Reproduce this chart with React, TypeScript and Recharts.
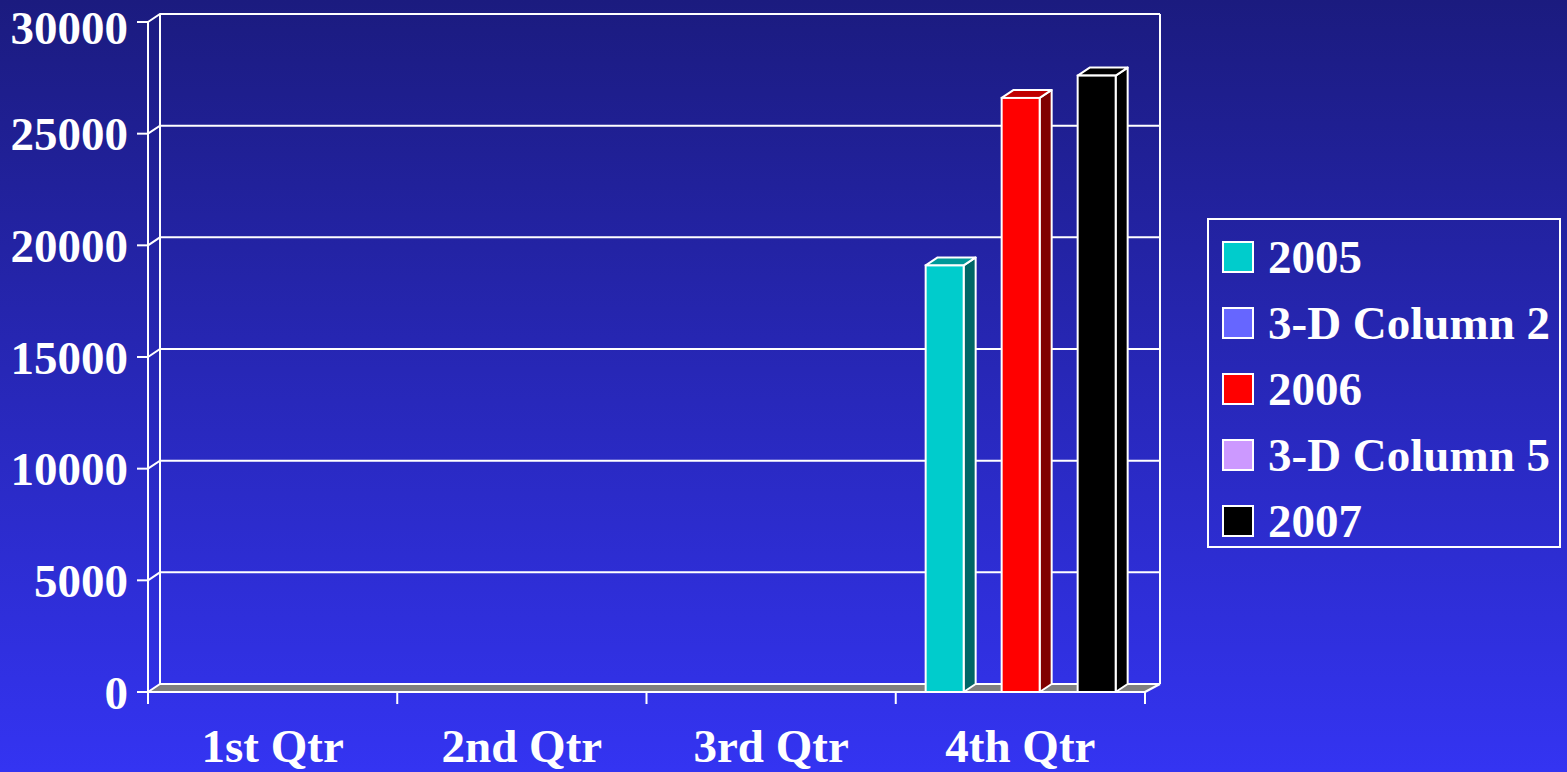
import { BarChart, Bar, XAxis, YAxis, CartesianGrid, Legend } from "recharts";

const quarters = ["1st Qtr", "2nd Qtr", "3rd Qtr", "4th Qtr"];
const s2005 = [null, null, null, 19100];
const column2 = [null, null, null, null];
const s2006 = [null, null, null, 26600];
const column5 = [null, null, null, null];
const s2007 = [null, null, null, 27600];
const yTicks = [0, 5000, 10000, 15000, 20000, 25000, 30000];

const data = quarters.map((q, i) => ({
  quarter: q,
  s2005: s2005[i],
  col2: column2[i],
  s2006: s2006[i],
  col5: column5[i],
  s2007: s2007[i],
}));

const series = [
  { key: "s2005", name: "2005", fill: "#00CCCC" },
  { key: "col2", name: "3-D Column 2", fill: "#6666FF" },
  { key: "s2006", name: "2006", fill: "#FF0000" },
  { key: "col5", name: "3-D Column 5", fill: "#CC99FF" },
  { key: "s2007", name: "2007", fill: "#000000" },
];

// darker faces for the fake 3d look
const shades: Record<string, { side: string; top: string }> = {
  "#00CCCC": { side: "#006666", top: "#009999" },
  "#FF0000": { side: "#800000", top: "#C00000" },
  "#000000": { side: "#000000", top: "#000000" },
  "#6666FF": { side: "#333380", top: "#4d4dc0" },
  "#CC99FF": { side: "#664d80", top: "#9973c0" },
};

const DX = 12;
const DY = -8;
const WALL_L = 12;
const WALL_R = 15;
const font = "'Liberation Serif', 'Times New Roman', serif";
const FS = 47;

const Bar3D = (props: any) => {
  const { x, y, width, height, fill } = props;
  if (!height || height <= 0) return null;
  const s = shades[fill] || { side: fill, top: fill };
  const r = x + width;
  return (
    <g>
      <polygon
        points={`${r},${y} ${r + DX},${y + DY} ${r + DX},${y + height + DY} ${r},${y + height}`}
        fill={s.side}
        stroke="#fff"
        strokeWidth={2}
        strokeLinejoin="round"
      />
      <polygon
        points={`${x},${y} ${x + DX},${y + DY} ${r + DX},${y + DY} ${r},${y}`}
        fill={s.top}
        stroke="#fff"
        strokeWidth={2}
        strokeLinejoin="round"
      />
      <rect x={x} y={y} width={width} height={height} fill={fill} stroke="#fff" strokeWidth={2} />
    </g>
  );
};

const wallLine = (p: any) => {
  const { x1, y1, x2, index } = p;
  const bottom = p.y != null && p.height != null ? p.y + p.height : null;
  const isFloor = bottom != null ? Math.abs(y1 - bottom) < 1 : index === 0;
  return (
    <g key={`h-${index}`}>
      {isFloor && (
        <polygon
          points={`${x1},${y1} ${x2},${y1} ${x2 + WALL_R},${y1 + DY} ${x1 + WALL_L},${y1 + DY}`}
          fill="#808080"
        />
      )}
      <polyline
        points={`${x1},${y1} ${x1 + WALL_L},${y1 + DY} ${x2 + WALL_R},${y1 + DY}`}
        fill="none"
        stroke="#fff"
        strokeWidth={2}
      />
      {isFloor && (
        <line x1={x2} y1={y1} x2={x2 + WALL_R} y2={y1 + DY} stroke="#fff" strokeWidth={2} />
      )}
    </g>
  );
};

const wallEdges = (p: any) => {
  const { y1, y2, index } = p;
  if (index !== 0 || p.x == null || p.width == null) return <g key={`v-${index}`} />;
  const left = p.x + WALL_L;
  const right = p.x + p.width + WALL_R;
  return (
    <g key={`v-${index}`}>
      <line x1={left} y1={y1 + DY} x2={left} y2={y2 + DY} stroke="#fff" strokeWidth={2} />
      <line x1={right} y1={y1 + DY} x2={right} y2={y2 + DY} stroke="#fff" strokeWidth={2} />
    </g>
  );
};

const QuarterTick = (p: any) => {
  const { x, y, payload, index, width, visibleTicksCount } = p;
  const count = visibleTicksCount || quarters.length;
  const half = payload?.offset || (width ? width / count / 2 : 0);
  return (
    <g>
      <line x1={x - half} y1={y - 12} x2={x - half} y2={y} stroke="#fff" strokeWidth={2} />
      {index === count - 1 && (
        <line x1={x + half} y1={y - 12} x2={x + half} y2={y} stroke="#fff" strokeWidth={2} />
      )}
      <text x={x} y={y + 58} textAnchor="middle" fill="#fff" fontSize={FS} fontWeight="bold" fontFamily={font}>
        {payload.value}
      </text>
    </g>
  );
};

const LegendBox = (props: any) => {
  const order = series.map((s) => s.name);
  const items = [...(props.payload || [])].sort(
    (a: any, b: any) => order.indexOf(a.value) - order.indexOf(b.value)
  );
  return (
    <div
      style={{
        boxSizing: "border-box",
        width: 354,
        height: 330,
        border: "2px solid #fff",
        paddingTop: 4,
        paddingLeft: 13,
      }}
    >
      {items.map((entry: any) => (
        <div key={entry.value} style={{ display: "flex", alignItems: "center", height: 66 }}>
          <div
            style={{
              boxSizing: "border-box",
              width: 32,
              height: 32,
              border: "2px solid #fff",
              background: entry.color,
              marginRight: 14,
            }}
          />
          <span style={{ color: "#fff", fontSize: FS, fontWeight: "bold", fontFamily: font, whiteSpace: "nowrap" }}>
            {entry.value}
          </span>
        </div>
      ))}
    </div>
  );
};

export default function App() {
  return (
    <div
      style={{
        position: "absolute",
        left: 0,
        top: 0,
        width: 1567,
        height: 772,
        background: "linear-gradient(to bottom, #1b1b7f, #3434f2)",
      }}
    >
      <BarChart
        width={1567}
        height={772}
        data={data}
        margin={{ top: 22, right: 422, bottom: 0, left: 0 }}
        barGap={0}
        barCategoryGap="12%"
      >
        <CartesianGrid horizontal={wallLine} vertical={wallEdges} />
        <XAxis
          dataKey="quarter"
          height={80}
          tickSize={12}
          tickMargin={0}
          tickLine={false}
          axisLine={{ stroke: "#fff", strokeWidth: 2 }}
          tick={<QuarterTick />}
          interval={0}
        />
        <YAxis
          width={148}
          domain={[0, 30000]}
          ticks={yTicks}
          tickSize={11}
          tickMargin={9}
          axisLine={{ stroke: "#fff", strokeWidth: 2 }}
          tickLine={{ stroke: "#fff", strokeWidth: 2 }}
          tick={{ fill: "#fff", fontSize: FS, fontWeight: "bold", fontFamily: font }}
        />
        <Legend
          layout="vertical"
          align="center"
          verticalAlign="middle"
          content={<LegendBox />}
          wrapperStyle={{ left: 1207, top: 218, width: 354, height: 330 }}
        />
        {series.map((s) => (
          <Bar
            key={s.key}
            dataKey={s.key}
            name={s.name}
            fill={s.fill}
            shape={<Bar3D />}
            isAnimationActive={false}
          />
        ))}
      </BarChart>
    </div>
  );
}
